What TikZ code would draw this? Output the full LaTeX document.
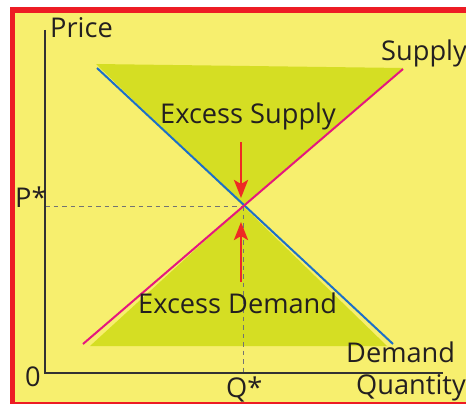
\documentclass[tikz,border=0pt]{standalone}
\usepackage{fontspec}
\setmainfont{Open Sans}
\usetikzlibrary{arrows.meta}
\definecolor{bgyellow}{RGB}{247,239,110}
\definecolor{tri}{RGB}{213,222,35}
\definecolor{frame}{RGB}{237,28,36}
\definecolor{dem}{RGB}{28,112,200}
\definecolor{sup}{RGB}{229,23,126}
\definecolor{arr}{RGB}{238,42,36}
\definecolor{txt}{RGB}{35,31,32}
\definecolor{axisc}{RGB}{50,50,50}
\definecolor{guidec}{RGB}{115,115,115}
\tikzset{
  lbl/.style={inner sep=0pt, anchor=base west, text=txt, font=\fontsize{27.2}{30}\selectfont},
  axisline/.style={draw=axisc, line width=1.2pt},
  guide/.style={draw=guidec, line width=0.9pt, dash pattern=on 4.5pt off 4pt},
  curve/.style={line width=2pt},
  move/.style={draw=arr, line width=2.8pt, -{Stealth[length=18pt,width=14pt,inset=4pt]}},
}
\begin{document}
\begin{tikzpicture}[x=1pt,y=-1pt]
\useasboundingbox (0,0) rectangle (466,404);
\clip (0,0) rectangle (466,404);
\fill[white] (0,0) rectangle (466,404);
\draw[frame, line width=5.5pt, fill=bgyellow] (12.5,10) rectangle (490,404.5);
% key points
\coordinate (E) at (243,206);
\coordinate (T1) at (96,64);
\coordinate (T2) at (403,68);
\coordinate (B1) at (90,346);
\coordinate (B2) at (387,346);
\coordinate (D1) at (97,68);
\coordinate (D2) at (393,344);
\coordinate (S1) at (83,344);
\coordinate (S2) at (403,69);
\coordinate (O) at (45,373);
\coordinate (Ytop) at (45,30);
\coordinate (Xend) at (443,373);
\coordinate (Pax) at (45,206);
\coordinate (Qax) at (243,373);
\coordinate (A1s) at (241,142);
\coordinate (A1e) at (241,198);
\coordinate (A2s) at (241,282);
\coordinate (A2e) at (241,222);
% triangles
\fill[tri] (T1) -- (T2) -- (E) -- cycle;
\fill[tri] (B1) -- (B2) -- (E) -- cycle;
% guides
\draw[guide] (Pax) -- (E);
\draw[guide] (E) -- (Qax);
% axes
\draw[axisline] (Ytop) -- (O) -- (Xend);
% curves
\draw[curve, dem] (D1) -- (D2);
\draw[curve, sup] (S1) -- (S2);
% arrows
\draw[move] (A1s) -- (A1e);
\draw[move] (A2s) -- (A2e);
% labels
\node[lbl] (price) at (50,38) {Price};
\node[lbl] (supply) at (381,60) {Supply};
\node[lbl] (exs) at (160,123) {Excess Supply};
\node[lbl] (exd) at (138,313) {Excess Demand};
\node[lbl] (pstar) at (15,207) {P*};
\node[lbl] (zero) at (25,386) {0};
\node[lbl] (qstar) at (226,397) {Q*};
\node[lbl] (demand) at (346,362) {Demand};
\node[lbl] (qty) at (356,394) {Quantity};
\end{tikzpicture}
\end{document}
